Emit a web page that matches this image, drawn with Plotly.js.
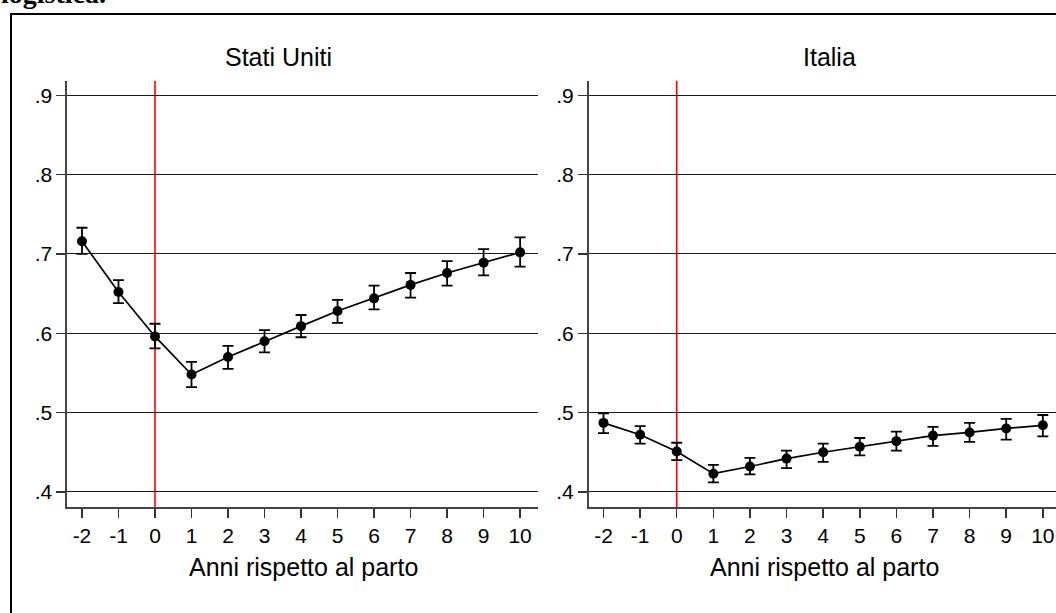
<!DOCTYPE html>
<html>
<head>
<meta charset="utf-8">
<script src="https://cdn.plot.ly/plotly-3.0.1.min.js"></script>
<style>html,body{margin:0;padding:0;background:#fff;}#chart{width:1056px;height:613px;}</style>
</head>
<body>
<div id="chart"></div>
<script>
// ---- data ----
var years = [-2, -1, 0, 1, 2, 3, 4, 5, 6, 7, 8, 9, 10];
var xTickLabels = ['-2', '-1', '0', '1', '2', '3', '4', '5', '6', '7', '8', '9', '10'];
var yTickVals = [0.4, 0.5, 0.6, 0.7, 0.8, 0.9];
var yTickLabels = ['.4', '.5', '.6', '.7', '.8', '.9'];

var usEst   = [0.716, 0.652, 0.596, 0.548, 0.570, 0.590, 0.609, 0.628, 0.644, 0.661, 0.676, 0.689, 0.702];
var usUpper = [0.733, 0.667, 0.612, 0.564, 0.584, 0.604, 0.623, 0.642, 0.660, 0.676, 0.691, 0.706, 0.721];
var usLower = [0.700, 0.638, 0.581, 0.532, 0.555, 0.576, 0.595, 0.613, 0.630, 0.645, 0.660, 0.673, 0.684];

var itEst   = [0.487, 0.472, 0.451, 0.423, 0.432, 0.442, 0.450, 0.457, 0.464, 0.471, 0.475, 0.480, 0.484];
var itUpper = [0.499, 0.483, 0.462, 0.434, 0.443, 0.452, 0.461, 0.468, 0.476, 0.482, 0.487, 0.492, 0.497];
var itLower = [0.474, 0.461, 0.440, 0.412, 0.422, 0.430, 0.438, 0.446, 0.452, 0.458, 0.463, 0.466, 0.470];

var panelTitles = ['Stati Uniti', 'Italia'];
var xAxisTitle = 'Anni rispetto al parto';
var topText = 'logistica.';
var eventYear = 0;

// ---- helpers ----
var W = 1056, H = 613;
function px(x) { return x / W; }
function py(y) { return 1 - y / H; }
function diff(a, b) { return a.map(function (v, i) { return +(v - b[i]).toFixed(4); }); }

function series(est, up, lo, xa, ya) {
  return {
    x: years, y: est, xaxis: xa, yaxis: ya,
    type: 'scatter', mode: 'lines+markers',
    line: {color: '#000', width: 1.7},
    marker: {color: '#000', size: 10, symbol: 'circle'},
    error_y: {type: 'data', symmetric: false, array: diff(up, est), arrayminus: diff(est, lo),
              color: '#000', thickness: 1.8, width: 5.5},
    showlegend: false, hoverinfo: 'x+y'
  };
}

var font = 'Liberation Sans, Arial, Helvetica, sans-serif';

function xAx(domain, range) {
  return {
    domain: domain, range: range, tickmode: 'array', tickvals: years, ticktext: xTickLabels,
    ticks: 'outside', ticklen: 9, tickwidth: 1.5, tickcolor: '#333',
    showline: true, linecolor: '#444', linewidth: 1.6,
    showgrid: false, zeroline: false, automargin: false,
    tickfont: {family: font, size: 21, color: '#000'}
  };
}
function yAx(anchor) {
  return {
    domain: [py(507), py(81)], range: [0.381, 0.918], anchor: anchor,
    tickmode: 'array', tickvals: yTickVals, ticktext: yTickLabels,
    ticks: 'outside', ticklen: 9, tickwidth: 1.5, tickcolor: '#333',
    showline: true, linecolor: '#444', linewidth: 1.6,
    showgrid: true, gridcolor: '#1a1a1a', gridwidth: 1,
    zeroline: false, automargin: false,
    tickfont: {family: font, size: 21, color: '#000'}
  };
}

var data = [
  series(usEst, usUpper, usLower, 'x', 'y'),
  series(itEst, itUpper, itLower, 'x2', 'y2')
];

var layout = {
  width: W, height: H,
  margin: {l: 0, r: 0, t: 0, b: 0, pad: 0},
  paper_bgcolor: '#fff', plot_bgcolor: '#fff',
  font: {family: font, color: '#000'},
  showlegend: false,
  xaxis: Object.assign(xAx([px(67), px(538)], [-2.41, 10.49]), {anchor: 'y'}),
  yaxis: yAx('x'),
  xaxis2: Object.assign(xAx([px(588.5), 1], [-2.41, 10.36]), {anchor: 'y2'}),
  yaxis2: yAx('x2'),
  shapes: [
    {type: 'line', xref: 'x', yref: 'y domain', x0: eventYear, x1: eventYear, y0: 0, y1: 1,
     line: {color: '#ff0000', width: 1.6}, layer: 'below'},
    {type: 'line', xref: 'x2', yref: 'y2 domain', x0: eventYear, x1: eventYear, y0: 0, y1: 1,
     line: {color: '#ff0000', width: 1.6}, layer: 'below'},
    {type: 'rect', xref: 'paper', yref: 'paper', x0: px(11), x1: 1.05, y0: -0.05, y1: py(14),
     line: {color: '#000', width: 2}, fillcolor: 'rgba(0,0,0,0)'}
  ],
  annotations: [
    {text: panelTitles[0], xref: 'paper', yref: 'paper', x: px(278), y: py(57),
     xanchor: 'center', yanchor: 'middle', showarrow: false, font: {family: font, size: 25, color: '#000'}},
    {text: panelTitles[1], xref: 'paper', yref: 'paper', x: px(829), y: py(57),
     xanchor: 'center', yanchor: 'middle', showarrow: false, font: {family: font, size: 25, color: '#000'}},
    {text: xAxisTitle, xref: 'paper', yref: 'paper', x: px(303), y: py(567),
     xanchor: 'center', yanchor: 'middle', showarrow: false, font: {family: font, size: 25, color: '#000'}},
    {text: xAxisTitle, xref: 'paper', yref: 'paper', x: px(824), y: py(567),
     xanchor: 'center', yanchor: 'middle', showarrow: false, font: {family: font, size: 25, color: '#000'}},
    {text: '<b>' + topText + '</b>', xref: 'paper', yref: 'paper', x: px(-1), y: py(11),
     xanchor: 'left', yanchor: 'bottom', showarrow: false,
     font: {family: 'Liberation Serif, Times New Roman, serif', size: 28, color: '#000'}}
  ]
};

Plotly.newPlot('chart', data, layout, {displayModeBar: false, staticPlot: true});
</script>
</body>
</html>
